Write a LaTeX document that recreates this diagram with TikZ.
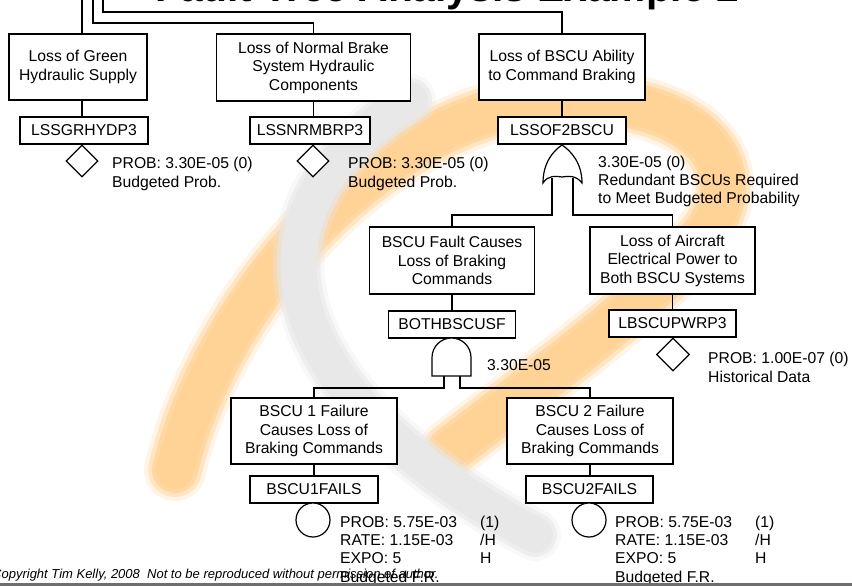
\documentclass[tikz,border=0pt]{standalone}
\usepackage{fontspec}
\setmainfont{Liberation Sans}
\usetikzlibrary{shapes.geometric}
\definecolor{wmorange}{RGB}{255,210,150}
\definecolor{wmgray}{RGB}{232,232,232}
\definecolor{rulegray}{RGB}{110,110,110}
\begin{document}
\begin{tikzpicture}[x=1pt,y=-1pt,
  txt/.style={font=\fontsize{15.7}{18.5}\selectfont},
  evbox/.style={txt, draw, fill=white, line width=1.2pt, align=center, inner sep=0pt, minimum height=66pt},
  idbox/.style={txt, draw, fill=white, line width=1.2pt, inner sep=0pt, minimum height=27pt},
  wire/.style={line width=1.2pt},
  gate/.style={draw, line width=1.2pt, fill=white},
  basic/.style={draw, line width=1.2pt, inner sep=0pt, fill=white},
  note/.style={txt, anchor=base west, inner sep=0pt},
  orangeband/.style={wmorange, line cap=round},
  grayband/.style={wmgray, line cap=round}]
\useasboundingbox (0,0) rectangle (852,586);
\clip (0,0) rectangle (852,586);

% faint logo in the background, soft edged
\def\orangepath{(175,470) .. controls (215,300) and (380,110) .. (560,100)
  .. controls (700,95) and (760,170) .. (700,240)
  .. controls (640,310) and (540,380) .. (450,450)}
\def\graypath{(410,100) .. controls (220,220) and (280,400) .. (535,535)}
\foreach \w/\o in {62/0.25, 54/0.45, 46/0.7, 38/1} {
  \draw[orangeband, line width=\w pt, opacity=\o] \orangepath;
}
\foreach \w/\o in {52/0.3, 44/0.6, 36/1} {
  \draw[grayband, line width=\w pt, opacity=\o] \graypath;
}

% title
\node[anchor=base west, inner sep=0pt, font=\fontsize{40.7}{44}\selectfont\bfseries] (title) at (155,2) {Fault Tree Analysis Example 2};

% events
\node[evbox, minimum width=138pt] (g1) at (78,67) {Loss of Green\\Hydraulic Supply};
\node[evbox, minimum width=194pt, minimum height=67pt] (g2) at (313.5,67.5) {Loss of Normal Brake\\System Hydraulic\\Components};
\node[evbox, minimum width=166pt] (g3) at (562,67) {Loss of BSCU Ability\\to Command Braking};
\node[evbox, minimum width=165pt, minimum height=67pt] (g4) at (452,260.5) {BSCU Fault Causes\\Loss of Braking\\Commands};
\node[evbox, minimum width=165pt, minimum height=67pt] (g5) at (672.5,260.5) {Loss of Aircraft\\Electrical Power to\\Both BSCU Systems};
\node[evbox, minimum width=166pt] (g6) at (314,431) {BSCU 1 Failure\\Causes Loss of\\Braking Commands};
\node[evbox, minimum width=166pt] (g7) at (590,431) {BSCU 2 Failure\\Causes Loss of\\Braking Commands};

% identifiers
\node[idbox, minimum width=128pt] (i1) at (84,130.5) {LSSGRHYDP3};
\node[idbox, minimum width=120pt] (i2) at (310,130.5) {LSSNRMBRP3};
\node[idbox, minimum width=128pt] (i3) at (562,130.5) {LSSOF2BSCU};
\node[idbox, minimum width=127pt] (i4) at (452,324.5) {BOTHBSCUSF};
\node[idbox, minimum width=127pt] (i5) at (672.5,323.5) {LBSCUPWRP3};
\node[idbox, minimum width=128pt] (i6) at (314,489.5) {BSCU1FAILS};
\node[idbox, minimum width=127pt] (i7) at (589.5,489.5) {BSCU2FAILS};

% feeds from the event above
\coordinate (t1) at (82,-5);
\coordinate (t2) at (93,-5);
\coordinate (t3) at (103,-5);
\coordinate (j2) at (93,23);
\coordinate (j3) at (103,12);
\draw[wire] (t1) -- (t1 |- g1.north);
\draw[wire] (t2) -- (j2) -| (g2.north);
\draw[wire] (t3) -- (j3) -| (g3.north);

% event to identifier
\draw[wire] (g1.south -| t1) -- (i1.north -| t1);
\draw[wire] (g2.south) -- (i2.north -| g2.south);
\draw[wire] (g3.south) -- (i3.north);
\draw[wire] (g4.south) -- (i4.north);
\draw[wire] (g5.south) -- (i5.north);
\draw[wire] (g6.south) -- (i6.north -| g6.south);
\draw[wire] (g7.south) -- (i7.north -| g7.south);

% undeveloped events
\node[diamond, basic, minimum width=32pt, minimum height=32pt] (d1) at (82,161) {};
\node[diamond, basic, minimum width=32pt, minimum height=32pt] (d2) at (313,161) {};
\node[diamond, basic, minimum width=33pt, minimum height=33pt] (d5) at (673,354.5) {};

% basic events
\node[circle, basic, minimum size=34pt] (c6) at (313,520) {};
\node[circle, basic, minimum size=34pt] (c7) at (589,520) {};

% OR gate under LSSOF2BSCU
\coordinate (orL) at (552,178);
\coordinate (orR) at (573,178);
\coordinate (orLb) at (552,215);
\coordinate (orRb) at (573,215);
\draw[wire] (orL) -- (orLb) -| (g4.north);
\draw[wire] (orR) -- (orRb) -| (g5.north);
\draw[gate] (562,145) .. controls (571,151) and (582,163) .. (582,183)
  .. controls (576,175) and (568,176) .. (562,177)
  .. controls (556,176) and (548,175) .. (543,183)
  .. controls (543,163) and (553,151) .. (562,145) -- cycle;

% AND gate under BOTHBSCUSF
\coordinate (andL) at (444,376);
\coordinate (andR) at (460,376);
\coordinate (andLb) at (444,388);
\coordinate (andRb) at (460,388);
\draw[wire] (andL) -- (andLb) -| (g6.north);
\draw[wire] (andR) -- (andRb) -| (g7.north);
\draw[gate] (432,376) -- (432,357.5) arc[start angle=180, end angle=360, radius=19.5] -- (471,376) -- cycle;

% annotations
\node[note] (n1a) at (112,168) {PROB: 3.30E-05 (0)};
\node[note] (n1b) at (112,187) {Budgeted Prob.};
\node[note] (n2a) at (348,168) {PROB: 3.30E-05 (0)};
\node[note] (n2b) at (348,187) {Budgeted Prob.};
\node[note] (n3a) at (598,167) {3.30E-05 (0)};
\node[note] (n3b) at (598,185) {Redundant BSCUs Required};
\node[note] (n3c) at (598,203) {to Meet Budgeted Probability};
\node[note] (n4) at (487,370) {3.30E-05};
\node[note] (n5a) at (708,363) {PROB: 1.00E-07 (0)};
\node[note] (n5b) at (708,382) {Historical Data};

\foreach \x/\n in {340/6, 615/7} {
  \node[note] (p\n a) at (\x,527) {PROB: 5.75E-03};
  \node[note] (p\n b) at (\x,545.3) {RATE: 1.15E-03};
  \node[note] (p\n c) at (\x,563.6) {EXPO: 5};
  \node[note] (p\n d) at (\x,582) {Budgeted F.R.};
  \node[note] (q\n a) at (\x+140,527) {(1)};
  \node[note] (q\n b) at (\x+140,545.3) {/H};
  \node[note] (q\n c) at (\x+140,563.6) {H};
}

% footer
\node[anchor=base west, inner sep=0pt, font=\fontsize{13}{15}\selectfont\itshape] (copy) at (-8,578) {Copyright Tim Kelly, 2008\ \ Not to be reproduced without permission of author.};
\fill[rulegray] (0,583) rectangle (852,586);
\end{tikzpicture}
\end{document}
